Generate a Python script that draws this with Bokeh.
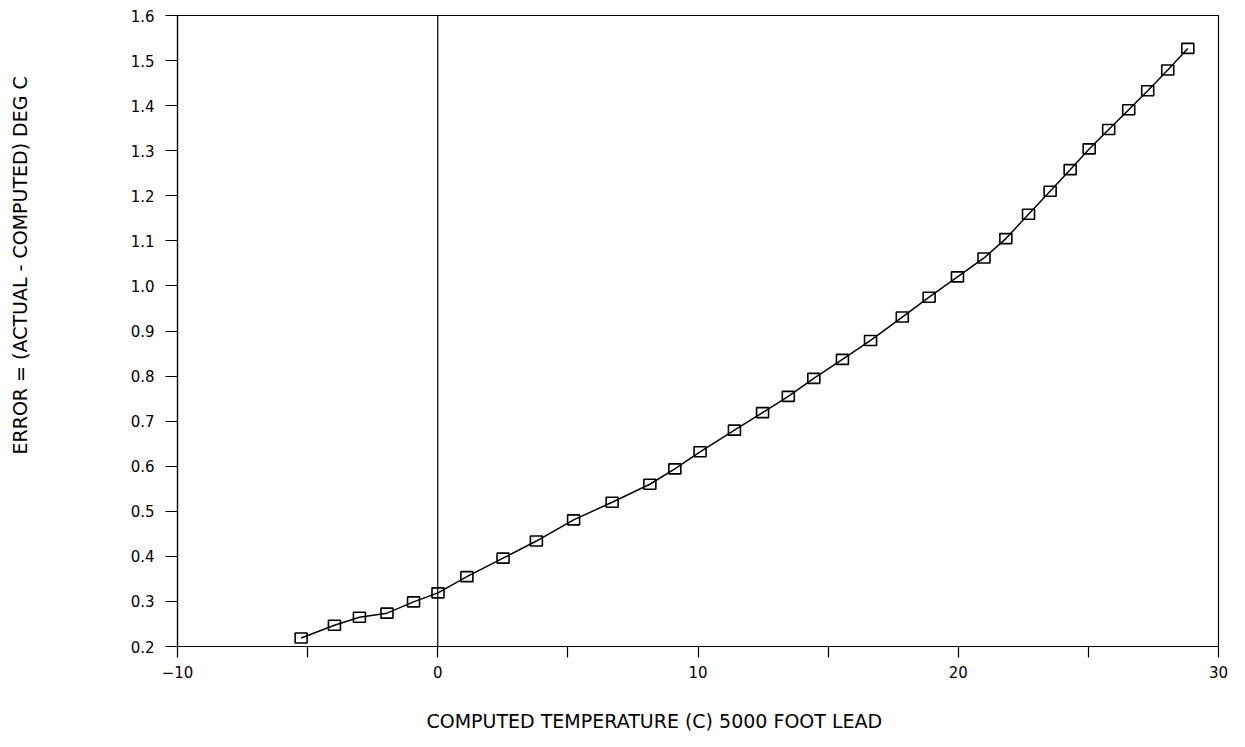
from bokeh.plotting import figure
from bokeh.models import FixedTicker, Span, Range1d, Title
from bokeh.embed import file_html
from bokeh.resources import INLINE

# Data
temperature = [-5.25, -3.97, -3.01, -1.95, -0.93, 0.01, 1.12, 2.51, 3.79, 5.22,
               6.70, 8.15, 9.11, 10.08, 11.40, 12.48, 13.47, 14.45, 15.55, 16.63,
               17.85, 18.88, 19.97, 20.99, 21.83, 22.70, 23.53, 24.30, 25.03, 25.78,
               26.55, 27.28, 28.05, 28.82]
error = [0.219, 0.247, 0.265, 0.274, 0.299, 0.319, 0.355, 0.396, 0.434, 0.481,
         0.520, 0.560, 0.594, 0.632, 0.680, 0.719, 0.755, 0.795, 0.837, 0.879,
         0.931, 0.975, 1.020, 1.062, 1.105, 1.159, 1.210, 1.258, 1.304, 1.347,
         1.391, 1.433, 1.479, 1.527]

x_ticks = [-10, -5, 0, 5, 10, 15, 20, 25, 30]
x_tick_labels = {-10: "\u221210", -5: "", 0: "0", 5: "", 10: "10", 15: "", 20: "20", 25: "", 30: "30"}
y_ticks = [0.2, 0.3, 0.4, 0.5, 0.6, 0.7, 0.8, 0.9, 1.0, 1.1, 1.2, 1.3, 1.4, 1.5, 1.6]

x_title = "COMPUTED TEMPERATURE (C) 5000 FOOT LEAD"
y_title = "ERROR = (ACTUAL - COMPUTED) DEG C"

FONT = "DejaVu Sans"

p = figure(width=1229, height=731, output_backend="svg", toolbar_location=None,
           x_range=Range1d(-10, 30), y_range=Range1d(0.2, 1.6),
           min_border_left=177, min_border_right=11, min_border_top=15, min_border_bottom=84)

p.grid.visible = False
p.outline_line_color = "black"
p.outline_line_width = 1.2
p.background_fill_color = "white"
p.border_fill_color = "white"

p.xaxis.ticker = FixedTicker(ticks=x_ticks)
p.xaxis.major_label_overrides = x_tick_labels
p.yaxis.ticker = FixedTicker(ticks=y_ticks)
p.yaxis.major_label_overrides = {v: f"{v:.1f}" for v in y_ticks}

for ax in (p.xaxis, p.yaxis):
    ax.axis_line_color = "black"
    ax.axis_line_width = 1.2
    ax.major_tick_line_color = "black"
    ax.major_tick_line_width = 1.2
    ax.major_tick_in = 0
    ax.minor_tick_line_color = None
    ax.major_label_text_font = FONT
    ax.major_label_text_font_size = "15px"
    ax.major_label_text_color = "black"
    # invisible spacer label that pushes the title panel outward
    ax.axis_label = " "
    ax.axis_label_text_font_size = "1px"
    ax.axis_label_text_alpha = 0

p.xaxis.major_tick_out = 11
p.xaxis.major_label_standoff = 8
p.xaxis.axis_label_standoff = 23
p.yaxis.major_tick_out = 12
p.yaxis.major_label_standoff = 11
p.yaxis.axis_label_standoff = 93

# vertical line at zero
p.add_layout(Span(location=0, dimension="height", line_color="black", line_width=1.2))

p.line(temperature, error, line_color="black", line_width=1.5)
p.rect(temperature, error, width=12, height=10, width_units="screen", height_units="screen",
       fill_color=None, line_color="black", line_width=1.6)

# axis titles placed as in the reference
p.add_layout(Title(text=x_title, align="left", offset=249, standoff=0,
                   text_font=FONT, text_font_size="19px", text_font_style="normal",
                   text_color="black"), "below")
p.add_layout(Title(text=y_title, align="left", offset=192, standoff=0,
                   text_font=FONT, text_font_size="19px", text_font_style="normal",
                   text_color="black"), "left")

open("out.html", "w").write(file_html(p, INLINE))
